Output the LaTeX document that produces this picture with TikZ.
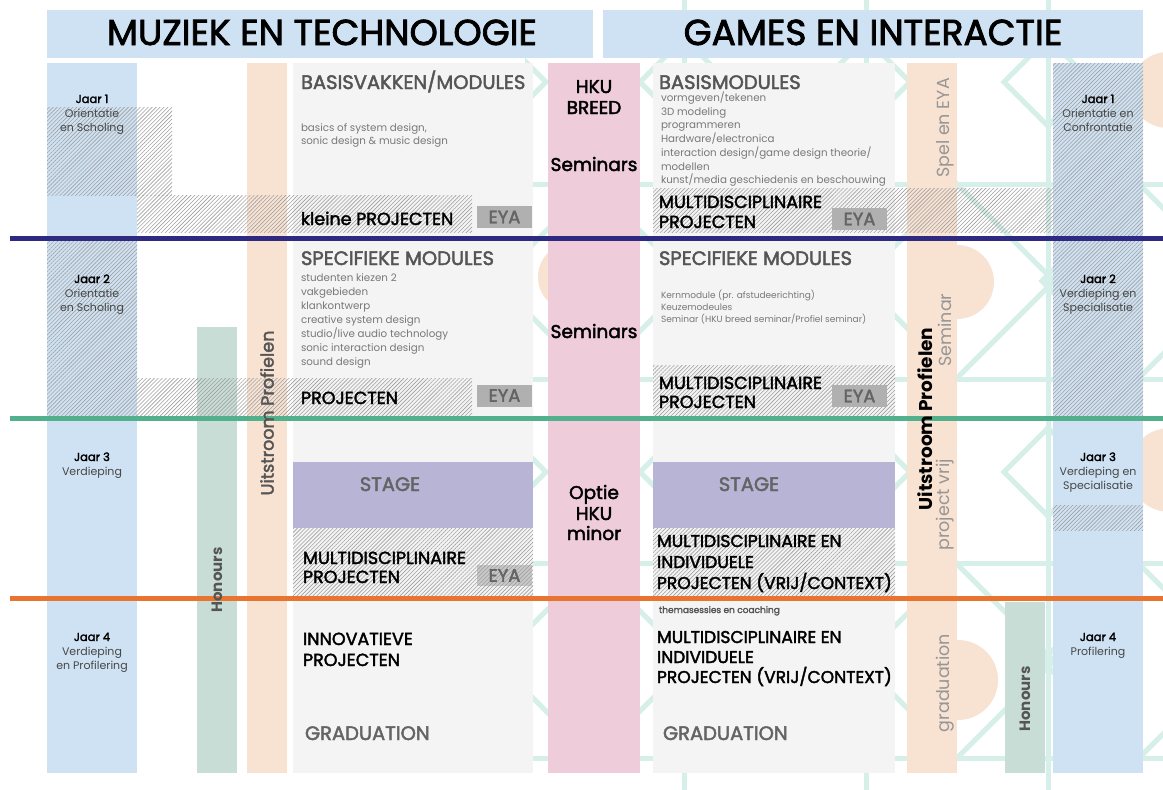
\documentclass[tikz,border=0pt]{standalone}
\usepackage{fontspec}
\setmainfont{Poppins}
\newfontfamily\medf[FakeBold=2.2]{Poppins}
\usetikzlibrary{patterns.meta}
\definecolor{lblue}{RGB}{207,226,243}
\definecolor{peach}{RGB}{248,226,210}
\definecolor{pinkc}{RGB}{238,204,218}
\definecolor{boxgray}{RGB}{244,244,244}
\definecolor{hgreen}{RGB}{200,221,214}
\definecolor{lav}{RGB}{184,180,214}
\definecolor{navyc}{RGB}{46,42,130}
\definecolor{greenc}{RGB}{82,176,140}
\definecolor{orangec}{RGB}{232,116,48}
\definecolor{latc}{RGB}{214,239,232}
\definecolor{eyagray}{RGB}{176,176,176}
\definecolor{eyalight}{RGB}{200,200,200}
\definecolor{eyatext}{RGB}{100,100,100}
\definecolor{hdrgray}{RGB}{85,85,85}
\definecolor{smallgray}{RGB}{120,120,120}
\definecolor{jgray}{RGB}{70,70,70}
\definecolor{lightg}{RGB}{150,150,150}
\definecolor{stagetext}{RGB}{100,100,100}
\definecolor{hatchc}{RGB}{160,160,160}
\tikzset{
 txt/.style={inner sep=0pt, outer sep=0pt},
 ttl/.style={txt, anchor=base, font=\medf\fontsize{36}{40}\selectfont, text=black},
 hdr/.style={txt, anchor=base west, font=\medf\fontsize{19.5}{22}\selectfont, text=hdrgray},
 sec/.style={txt, anchor=base west, font=\medf\fontsize{17.5}{20}\selectfont, text=black},
 secn/.style={sec, font=\medf\fontsize{17.1}{20}\selectfont},
 small/.style={txt, anchor=base west, font=\fontsize{10.3}{12}\selectfont, text=smallgray},
 tiny/.style={txt, anchor=base west, font=\fontsize{9}{10}\selectfont, text=smallgray},
 jt/.style={txt, anchor=base, font=\medf\fontsize{11.5}{13}\selectfont, text=black},
 js/.style={txt, anchor=base, font=\fontsize{11}{13}\selectfont, text=jgray},
 hku/.style={txt, anchor=base, font=\medf\fontsize{18.5}{22}\selectfont, text=black},
 rlight/.style={txt, rotate=90, font=\fontsize{17.5}{20}\selectfont, text=lightg},
 rbold/.style={txt, rotate=90, font=\bfseries\fontsize{18.5}{20}\selectfont, text=black},
 rmed/.style={txt, rotate=90, font=\medf\fontsize{17.5}{20}\selectfont, text=hdrgray},
 hon/.style={txt, rotate=90, font=\bfseries\fontsize{15}{17}\selectfont, text=hdrgray},
 eya/.style={fill=eyagray, inner sep=0pt, minimum width=55pt, minimum height=22pt, font=\medf\fontsize{18}{20}\selectfont, text=eyatext},
 stg/.style={txt, anchor=base, font=\medf\fontsize{19.5}{22}\selectfont, text=stagetext},
 hatch/.style={pattern={Lines[angle=45,distance=2.8pt,line width=0.6pt]}, pattern color=hatchc},
 lat/.style={draw=latc, line width=5pt},
 yline/.style={line width=5pt},
}
\begin{document}
\begin{tikzpicture}[x=1pt,y=-1pt]
\useasboundingbox (0,0) rectangle (1163,790);
\fill[white] (0,0) rectangle (1163,790);
% background lattice
\begin{scope}
\clip (525,0) rectangle (1163,790);
\foreach \yy in {184,379,563,758} \draw[lat] (525,\yy) -- (1163,\yy);
\foreach \xx in {684,866,1048} \draw[lat] (\xx,0) -- (\xx,790);
\foreach \cx in {502,684,866,1048,1230} {
  \foreach \cy in {82,472}
    \draw[lat] (\cx-44,\cy) -- (\cx,\cy-44) -- (\cx+44,\cy) -- (\cx,\cy+44) -- cycle;
}
\foreach \cx in {593,775,957,1139} {
  \foreach \cy in {281,661}
    \draw[lat] (\cx-97,\cy) -- (\cx,\cy-97) -- (\cx+97,\cy) -- (\cx,\cy+97) -- cycle;
}
\end{scope}
% peach circles
\fill[peach] (957,282) circle (37);
\fill[peach] (958,680) circle (40);
\fill[peach] (1168,90) circle (38);
\fill[peach] (1170,470) circle (42);
\fill[peach] (572,277) circle (34);
% title boxes
\fill[lblue] (47,10) rectangle (593,58);
\fill[lblue] (603,10) rectangle (1143,58);
% strips
\fill[lblue] (47,63) rectangle (137,773);
\fill[lblue] (1053,63) rectangle (1143,773);
\fill[peach] (247,63) rectangle (287,773);
\fill[peach] (907,63) rectangle (957,773);
\fill[hgreen] (197,327) rectangle (237,773);
\fill[hgreen] (1005,602) rectangle (1045,773);
\fill[boxgray] (293,63) rectangle (533,773);
\fill[boxgray] (653,63) rectangle (895,773);
\fill[pinkc] (548,63) rectangle (640,773);
% stage boxes
\fill[lav] (293,462) rectangle (533,528);
\fill[lav] (653,462) rectangle (895,528);
% hatches
\fill[hatch] (47,107) rectangle (172,195);
\fill[hatch] (137,195) rectangle (472,232);
\fill[hatch] (47,241) rectangle (137,416);
\fill[hatch] (137,378) rectangle (472,416);
\fill[eyalight] (477,565) rectangle (532,586);
\fill[hatch] (293,528) rectangle (533,597);
\fill[hatch] (1053,63) rectangle (1143,416);
\fill[hatch] (653,188) rectangle (1053,232);
\fill[hatch] (653,365) rectangle (895,416);
\fill[hatch] (1053,505) rectangle (1143,530);
\fill[hatch] (653,528) rectangle (895,597);
% year lines
\draw[yline, navyc] (10,238) -- (1163,238);
\draw[yline, greenc] (10,418) -- (1163,418);
\draw[yline, orangec] (10,598) -- (1163,598);
% titles
\node[ttl] (t1) at (322,45) {MUZIEK EN TECHNOLOGIE};
\node[ttl] (t2) at (873,45) {GAMES EN INTERACTIE};
% left year labels
\node[jt] (lj1) at (92,103) {Jaar 1};
\node[js] (lj1a) at (92,117) {Orientatie};
\node[js] (lj1b) at (92,131) {en Scholing};
\node[jt] (lj2) at (92,283) {Jaar 2};
\node[js] (lj2a) at (92,297) {Orientatie};
\node[js] (lj2b) at (92,311) {en Scholing};
\node[jt] (lj3) at (92,461) {Jaar 3};
\node[js] (lj3a) at (92,475) {Verdieping};
\node[jt] (lj4) at (92,641) {Jaar 4};
\node[js] (lj4a) at (92,655) {Verdieping};
\node[js] (lj4b) at (92,669) {en Profilering};
% right year labels
\node[jt] (rj1) at (1098,103) {Jaar 1};
\node[js] (rj1a) at (1098,117) {Orientatie en};
\node[js] (rj1b) at (1098,131) {Confrontatie};
\node[jt] (rj2) at (1098,283) {Jaar 2};
\node[js] (rj2a) at (1098,297) {Verdieping en};
\node[js] (rj2b) at (1098,311) {Specialisatie};
\node[jt] (rj3) at (1098,461) {Jaar 3};
\node[js] (rj3a) at (1098,475) {Verdieping en};
\node[js] (rj3b) at (1098,489) {Specialisatie};
\node[jt] (rj4) at (1098,641) {Jaar 4};
\node[js] (rj4a) at (1098,655) {Profilering};
% rotated labels
\node[rmed] (uitL) at (267,413) {Uitstroom Profielen};
\node[hon] (honL) at (217,580) {Honours};
\node[rbold] (uitR) at (925,419) {Uitstroom Profielen};
\node[rlight] (spel) at (945,128) {Spel en EYA};
\node[rlight] (semr) at (945,330) {Seminar};
\node[rlight] (pvrij) at (945,505) {project vrij};
\node[rlight] (grad) at (945,683) {graduation};
\node[hon] (honR) at (1025,699) {Honours};
% HKU strip
\node[hku] (hku1) at (594,93) {HKU};
\node[hku] (hku2) at (594,114) {BREED};
\node[hku] (sem1) at (594,171) {Seminars};
\node[hku] (sem2) at (594,338) {Seminars};
\node[hku] (opt1) at (594,499) {Optie};
\node[hku] (opt2) at (594,520) {HKU};
\node[hku] (opt3) at (594,540) {minor};
% left content
\node[hdr] (lbas) at (301,89) {BASISVAKKEN/MODULES};
\node[small] (lb1) at (301,131) {basics of system design,};
\node[small] (lb2) at (301,144) {sonic design \& music design};
\node[sec] (lkp) at (301,225) {kleine PROJECTEN};
\node[eya] (leya1) at (504.5,217) {EYA};
\node[hdr] (lspec) at (301,265) {SPECIFIEKE MODULES};
\node[small] (ls1) at (301,281) {studenten kiezen 2};
\node[small] (ls2) at (301,295) {vakgebieden};
\node[small] (ls3) at (301,309) {klankontwerp};
\node[small] (ls4) at (301,323) {creative system design};
\node[small] (ls5) at (301,337) {studio/live audio technology};
\node[small] (ls6) at (301,351) {sonic interaction design};
\node[small] (ls7) at (301,365) {sound design};
\node[sec] (lproj) at (301,404) {PROJECTEN};
\node[eya] (leya2) at (504.5,395.5) {EYA};
\node[stg] (lstage) at (390,491) {STAGE};
\node[sec] (lm1) at (303,564) {MULTIDISCIPLINAIRE};
\node[sec] (lm2) at (303,583) {PROJECTEN};
\node[txt, font=\medf\fontsize{18}{20}\selectfont, text=eyatext] (leya3) at (504.5,575.5) {EYA};
\node[sec] (lin1) at (303,645) {INNOVATIEVE};
\node[sec] (lin2) at (303,666) {PROJECTEN};
\node[stg, anchor=base west] (lgrad) at (305,740) {GRADUATION};
% right content
\node[hdr] (rbas) at (659,89) {BASISMODULES};
\node[small] (rb1) at (661,101) {vormgeven/tekenen};
\node[small] (rb2) at (661,115) {3D modeling};
\node[small] (rb3) at (661,128) {programmeren};
\node[small] (rb4) at (661,142) {Hardware/electronica};
\node[small] (rb5) at (661,156) {interaction design/game design theorie/};
\node[small] (rb6) at (661,170) {modellen};
\node[small] (rb7) at (661,183) {kunst/media geschiedenis en beschouwing};
\node[sec] (rm1) at (659,208) {MULTIDISCIPLINAIRE};
\node[sec] (rm2) at (659,228) {PROJECTEN};
\node[eya] (reya1) at (859.5,219) {EYA};
\node[hdr] (rspec) at (659,265) {SPECIFIEKE MODULES};
\node[tiny] (rs1) at (661,298) {Kernmodule (pr. afstudeerichting)};
\node[tiny] (rs2) at (661,310) {Keuzemodeules};
\node[tiny] (rs3) at (661,322) {Seminar (HKU breed seminar/Profiel seminar)};
\node[sec] (rm3) at (659,389) {MULTIDISCIPLINAIRE};
\node[sec] (rm4) at (659,408) {PROJECTEN};
\node[eya] (reya2) at (859.5,396) {EYA};
\node[stg] (rstage) at (749,491) {STAGE};
\node[secn] (rmi1) at (657,547) {MULTIDISCIPLINAIRE EN};
\node[secn] (rmi2) at (657,568) {INDIVIDUELE};
\node[secn] (rmi3) at (657,589) {PROJECTEN (VRIJ/CONTEXT)};
\node[tiny, font=\medf\fontsize{9}{10}\selectfont, text=hdrgray] (rthem) at (659,613) {themasessies en coaching};
\node[secn] (rmj1) at (657,643) {MULTIDISCIPLINAIRE EN};
\node[secn] (rmj2) at (657,663) {INDIVIDUELE};
\node[secn] (rmj3) at (657,683) {PROJECTEN (VRIJ/CONTEXT)};
\node[stg, anchor=base west] (rgrad) at (663,740) {GRADUATION};
\end{tikzpicture}
\end{document}
